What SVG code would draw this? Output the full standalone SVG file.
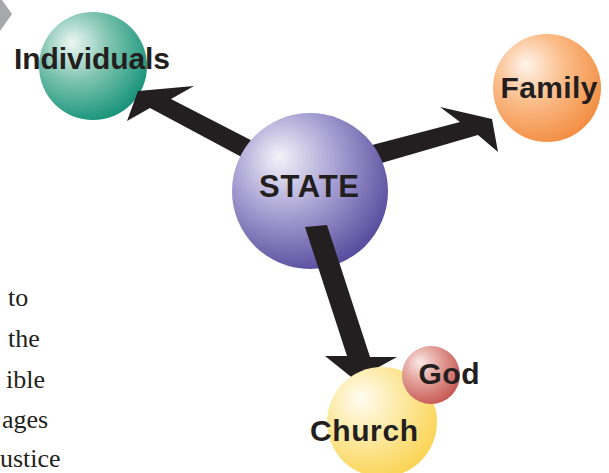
<svg xmlns="http://www.w3.org/2000/svg" width="609" height="473" viewBox="0 0 609 473">
<style>
.lbl{font-family:"Liberation Sans",Arial,sans-serif;font-weight:bold;fill:#231f20;}
.body{font-family:"Liberation Serif",serif;font-size:26px;fill:#231f20;}
.arrow{fill:#231f20;}
</style>
<defs>
<radialGradient id="gInd" cx="0.38" cy="0.35" r="0.72" fx="0.3" fy="0.28">
<stop offset="0" stop-color="#eef7f3"/><stop offset="0.45" stop-color="#7fc4b0"/><stop offset="1" stop-color="#0e8f75"/>
</radialGradient>
<radialGradient id="gState" cx="0.38" cy="0.35" r="0.72" fx="0.3" fy="0.28">
<stop offset="0" stop-color="#f4f3fa"/><stop offset="0.45" stop-color="#aaa3d4"/><stop offset="1" stop-color="#514599"/>
</radialGradient>
<radialGradient id="gFam" cx="0.38" cy="0.35" r="0.72" fx="0.3" fy="0.28">
<stop offset="0" stop-color="#fff5ec"/><stop offset="0.45" stop-color="#fbbd8a"/><stop offset="1" stop-color="#f28a3c"/>
</radialGradient>
<radialGradient id="gChurch" cx="0.38" cy="0.35" r="0.72" fx="0.3" fy="0.28">
<stop offset="0" stop-color="#fffdf2"/><stop offset="0.45" stop-color="#fdeaa6"/><stop offset="1" stop-color="#fbd24e"/>
</radialGradient>
<radialGradient id="gGod" cx="0.38" cy="0.35" r="0.72" fx="0.3" fy="0.28">
<stop offset="0" stop-color="#faeae8"/><stop offset="0.45" stop-color="#e3a09a"/><stop offset="1" stop-color="#c4524d"/>
</radialGradient>
</defs>

<polygon points="0,0 2,0 12,14 0,31" fill="#a7a8ab"/>

<g id="body-text">
<text class="body" x="8" y="306">to</text>
<text class="body" x="8" y="347">the</text>
<text class="body" x="6" y="388">ible</text>
<text class="body" x="2" y="428">ages</text>
<text class="body" x="0" y="467">ustice</text>
</g>

<g id="individuals-circle"><circle cx="93" cy="66" r="54" fill="url(#gInd)"/></g>
<g id="family-circle"><circle cx="547" cy="88" r="54" fill="url(#gFam)"/></g>

<g id="connectors-back">
<polygon class="arrow" points="127,121 138,91 194,86 171,99 270,150 262,168 150,108"/>
<polygon class="arrow" points="330,156 460,122 440,107 492,119 498,152 478,135 385,162 340,175"/>
</g>

<g id="state"><circle cx="310" cy="191" r="78" fill="url(#gState)"/>
<text class="lbl" x="309" y="197" font-size="31" text-anchor="middle" textLength="100">STATE</text></g>

<g id="connectors">
<polygon class="arrow" points="305,227 327,225 370,357 397,357 355,380 325,356 347,356"/>
</g>

<g id="church"><circle cx="382" cy="422" r="55" fill="url(#gChurch)"/></g>
<g id="god"><circle cx="431" cy="375" r="29" fill="url(#gGod)"/>
<text class="lbl" x="449" y="384" font-size="30" text-anchor="middle" textLength="61">God</text></g>
<g id="church-label"><text class="lbl" x="364" y="441" font-size="30" text-anchor="middle" textLength="108">Church</text></g>

<g id="individuals"><text class="lbl" x="92" y="69" font-size="30" text-anchor="middle" textLength="156">Individuals</text></g>
<g id="family"><text class="lbl" x="549" y="98" font-size="30" text-anchor="middle" textLength="97">Family</text></g>
</svg>
